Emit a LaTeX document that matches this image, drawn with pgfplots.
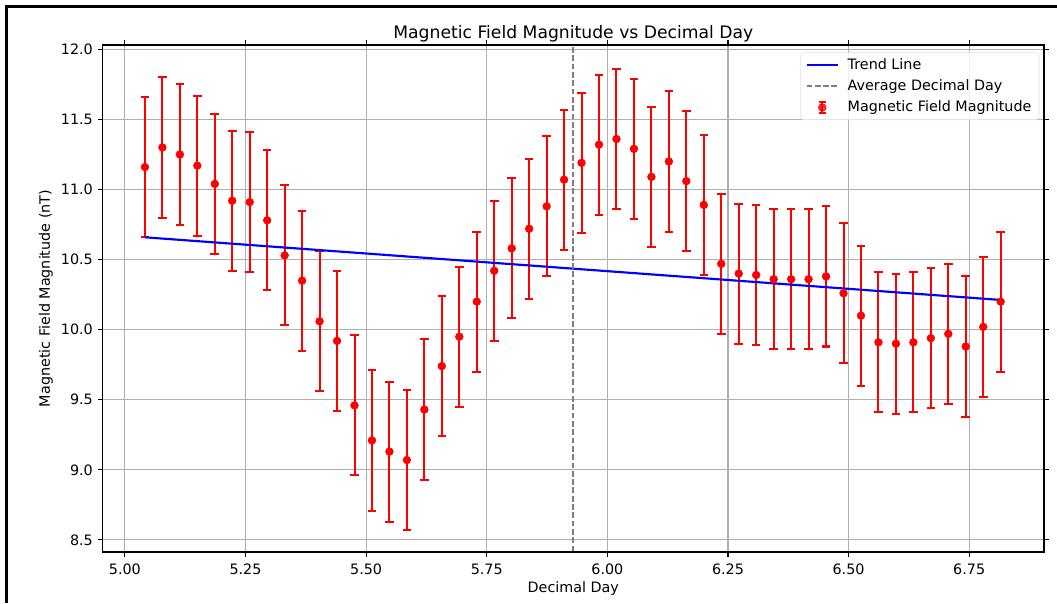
\documentclass[border=0pt]{standalone}
\usepackage{fontspec}
\setmainfont{DejaVu Sans}
\usepackage{pgfplots}
\pgfplotsset{compat=1.18}
\definecolor{gridgray}{HTML}{B0B0B0}
\definecolor{mplgray}{HTML}{808080}

% magnetic field magnitude (nT) against decimal day (x in units of 1e-5, offset 44)
\pgfplotstableread{
x       y
5.0415  11.16
5.0777  11.30
5.1139  11.25
5.1501  11.17
5.1863  11.04
5.2225  10.92
5.2587  10.91
5.2949  10.78
5.3311  10.53
5.3673  10.35
5.4035  10.06
5.4397  9.92
5.4759  9.46
5.5121  9.21
5.5483  9.13
5.5845  9.07
5.6207  9.43
5.6569  9.74
5.6931  9.95
5.7293  10.20
5.7655  10.42
5.8017  10.58
5.8379  10.72
5.8741  10.88
5.9103  11.07
5.9465  11.19
5.9827  11.32
6.0189  11.36
6.0551  11.29
6.0913  11.09
6.1275  11.20
6.1637  11.06
6.1999  10.89
6.2361  10.47
6.2723  10.40
6.3085  10.39
6.3447  10.36
6.3809  10.36
6.4171  10.36
6.4533  10.38
6.4895  10.26
6.5257  10.10
6.5619  9.91
6.5981  9.90
6.6343  9.91
6.6705  9.94
6.7067  9.97
6.7429  9.88
6.7791  10.02
6.8153  10.20
}\fielddata

\begin{document}
\begin{tikzpicture}
\useasboundingbox (0,0) rectangle (737.8pt,420.9pt);
% frame of the screenshot (left and top)
\draw[line width=1.9pt] (4.7pt,0pt) -- (4.7pt,416.2pt) -- (737.8pt,416.2pt);
\begin{axis}[
    at={(71.7pt,35.6pt)}, anchor=south west,
    scale only axis, width=657pt, height=353.9pt,
    xmin=4.954, xmax=6.905, ymin=8.414, ymax=12.031,
    xtick={5,5.25,5.5,5.75,6,6.25,6.5,6.75},
    ytick={8.5,9,9.5,10,10.5,11,11.5,12},
    xticklabel style={yshift=-1.4pt, /pgf/number format/.cd, fixed, fixed zerofill, precision=2},
    yticklabel style={/pgf/number format/.cd, fixed, fixed zerofill, precision=1},
    /pgf/number format/assume math mode=true,
    tick label style={font=\fontsize{10}{12}\selectfont},
    tick align=outside, major tick length=3.4pt,
    tick style={black, line width=0.75pt},
    axis line style={black, line width=0.75pt},
    grid=major, grid style={gridgray, line width=0.75pt},
    title={Magnetic Field Magnitude vs Decimal Day},
    title style={font=\fontsize{12}{14}\selectfont, at={(axis description cs:0.5,1)}, anchor=base, yshift=-1.8pt},
    xlabel={Decimal Day},
    xlabel style={font=\fontsize{10}{12}\selectfont, at={(axis description cs:0.5,0)}, anchor=base, yshift=-28.6pt},
    ylabel={Magnetic Field Magnitude (nT)},
    ylabel style={font=\fontsize{10}{12}\selectfont, at={(axis description cs:0,0.5)}, anchor=base, yshift=36.8pt},
    legend style={at={(0.995,0.9856)}, anchor=north east, draw=gray!25,
      fill=white, fill opacity=0.8, text opacity=1, rounded corners=2pt,
      font=\fontsize{10}{12}\selectfont, row sep=1.8pt, inner xsep=3.3pt, inner ysep=2pt},
    legend cell align=left,
    legend image code/.code={\draw[#1] (0pt,0pt) -- (22pt,0pt); \path (26pt,0pt);},
  ]
  % measured values with error bars
  \addplot[red, only marks, mark=*, mark size=2.7pt, forget plot,
    error bars/.cd, y dir=both, y fixed=0.5,
    error bar style={red, line width=1.4pt},
    error mark options={red, line width=1.4pt, mark size=3pt, rotate=90}]
    table[x=x, y=y] {\fielddata};
  % linear trend
  \addplot[blue, line width=1.5pt]
    coordinates {(5.0415,10.659) (6.8153,10.212)};
  \addlegendentry{Trend Line}
  % mean of the decimal days
  \addplot[mplgray, line width=1.2pt, dash pattern=on 4pt off 1.8pt]
    coordinates {(5.9284,8.3) (5.9284,12.2)};
  \addlegendentry{Average Decimal Day}
  \addlegendimage{legend image code/.code={
      \draw[red, line width=1.4pt] (11pt,-4pt) -- (11pt,4pt);
      \draw[red, line width=1.4pt] (8.5pt,4pt) -- (13.5pt,4pt);
      \draw[red, line width=1.4pt] (8.5pt,-4pt) -- (13.5pt,-4pt);
      \fill[red] (11pt,0pt) circle (2.7pt);
      \path (0pt,0pt) (26pt,0pt);}}
  \addlegendentry{Magnetic Field Magnitude}
  % offset text of the x axis
  \node[anchor=base east, font=\fontsize{10}{12}\selectfont]
    at (rel axis cs:1,0) [yshift=-28pt] {1e$-$5+4.4e1};
\end{axis}
\end{tikzpicture}
\end{document}
